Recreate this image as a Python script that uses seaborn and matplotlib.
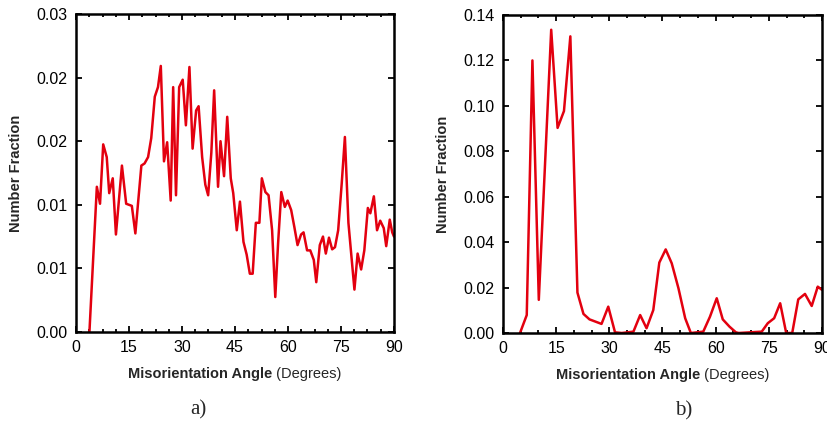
import matplotlib
matplotlib.use("Agg")
import matplotlib.pyplot as plt
from matplotlib.ticker import MultipleLocator, FormatStrFormatter
import seaborn as sns
import pandas as pd

# --- data ---
angle_a = [3.8, 5.9, 6.8, 7.7, 8.7, 9.4, 10.4, 11.3, 13.0, 14.2,
           15.8, 16.8, 18.5, 19.4, 20.4, 21.3, 22.3, 23.2, 24.0, 24.9,
           25.8, 26.8, 27.5, 28.3, 29.2, 30.2, 31.1, 32.1, 33.0, 34.0,
           34.7, 35.7, 36.6, 37.4, 38.3, 39.1, 40.2, 40.9, 41.9, 42.8,
           43.8, 44.5, 45.5, 46.4, 47.4, 48.3, 49.2, 50.0, 50.9, 51.9,
           52.6, 53.6, 54.5, 55.5, 56.4, 57.2, 58.1, 59.1, 59.9, 60.9,
           61.8, 62.7, 63.7, 64.4, 65.4, 66.3, 67.3, 68.0, 69.0, 69.9,
           70.7, 71.6, 72.5, 73.3, 74.2, 75.2, 76.1, 77.1, 77.8, 78.8,
           79.7, 80.7, 81.6, 82.6, 83.3, 84.3, 85.2, 86.1, 87.1, 87.8,
           88.8, 89.5, 90.0]
fraction_a = [0.0, 0.0137, 0.0121, 0.0177, 0.0165, 0.0131, 0.0145, 0.0092, 0.0157, 0.0121,
              0.0119, 0.0093, 0.0157, 0.0159, 0.0165, 0.0183, 0.0222, 0.0231, 0.0251, 0.0161,
              0.0179, 0.0124, 0.0231, 0.0129, 0.0231, 0.0238, 0.0195, 0.0250, 0.0173, 0.0209,
              0.0213, 0.0165, 0.0139, 0.0129, 0.0169, 0.0228, 0.0137, 0.0180, 0.0147, 0.0203,
              0.0145, 0.0131, 0.0096, 0.0123, 0.0085, 0.0073, 0.0055, 0.0055, 0.0103, 0.0103,
              0.0145, 0.0132, 0.0129, 0.0096, 0.0033, 0.0084, 0.0132, 0.0118, 0.0124, 0.0115,
              0.0099, 0.0082, 0.0092, 0.0094, 0.0077, 0.0077, 0.0068, 0.0047, 0.0082, 0.0090,
              0.0074, 0.0089, 0.0078, 0.0080, 0.0096, 0.0140, 0.0184, 0.0103, 0.0077, 0.0040,
              0.0074, 0.0059, 0.0077, 0.0117, 0.0112, 0.0128, 0.0096, 0.0105, 0.0098, 0.0081,
              0.0106, 0.0094, 0.0090]

angle_b = [4.8, 6.7, 8.3, 10.1, 13.6, 15.4, 17.2, 19.0, 21.0, 22.7,
           24.4, 27.8, 29.7, 31.6, 33.5, 36.8, 38.7, 40.5, 42.4, 44.1,
           45.9, 47.6, 49.5, 51.4, 53.0, 56.5, 58.4, 60.3, 62.0, 63.9,
           65.7, 66.5, 73.0, 74.7, 76.5, 78.2, 79.9, 81.6, 83.3, 85.2,
           87.1, 88.8, 90.0]
fraction_b = [0.0, 0.0079, 0.1200, 0.0146, 0.1335, 0.0903, 0.0977, 0.1306, 0.0178, 0.0084,
              0.0060, 0.0040, 0.0116, 0.0003, 0.0, 0.0006, 0.0079, 0.0021, 0.0101, 0.0310,
              0.0368, 0.0307, 0.0197, 0.0065, 0.0, 0.0006, 0.0072, 0.0153, 0.0060, 0.0028,
              0.0003, 0.0, 0.0006, 0.0043, 0.0065, 0.0131, 0.0, 0.0, 0.0148, 0.0172,
              0.0119, 0.0204, 0.0190]

x_ticks = [0, 15, 30, 45, 60, 75, 90]
captions = ["a)", "b)"]

LINE_RED = "#e3000f"

sns.set_style("ticks")
plt.rcParams['font.family'] = ['Liberation Sans', 'DejaVu Sans']

fig = plt.figure(figsize=(8.28, 4.22), dpi=100)
ax_a = fig.add_axes([76 / 828, 90 / 422, 318 / 828, 318 / 422])
ax_b = fig.add_axes([503 / 828, 89 / 422, 319 / 828, 318 / 422])

panels = [
    (ax_a, angle_a, fraction_a, 0.03, 0.006, 3.75),
    (ax_b, angle_b, fraction_b, 0.14, 0.02, 5),
]

for ax, xs, ys, ymax, ystep, xminor in panels:
    df = pd.DataFrame({"angle": xs, "fraction": ys})
    sns.lineplot(data=df, x="angle", y="fraction", ax=ax, color=LINE_RED,
                 linewidth=1.8, sort=False, estimator=None)
    ax.set_xlim(0, 90)
    ax.set_ylim(0, ymax)
    ax.set_xticks(x_ticks)
    ax.xaxis.set_minor_locator(MultipleLocator(xminor))
    ax.yaxis.set_major_locator(MultipleLocator(ystep))
    ax.yaxis.set_major_formatter(FormatStrFormatter("%.2f"))
    ax.tick_params(which="both", direction="in", top=True, right=True,
                   width=1.3, labelsize=11.5, colors="black")
    ax.tick_params(which="major", length=4, pad=6)
    ax.tick_params(which="minor", length=2.5)
    for sp in ax.spines.values():
        sp.set_linewidth(1.8)
        sp.set_color("black")
    ax.set_xlabel("")
    ax.set_ylabel("Number Fraction", fontsize=10.5, fontweight="bold", labelpad=10)

# x labels: bold part + regular part, centred together under each panel
label_parts = []
for ax in (ax_a, ax_b):
    t1 = ax.text(0.5, -0.11, "Misorientation Angle", transform=ax.transAxes,
                 fontsize=10.5, fontweight="bold", ha="left", va="top")
    t2 = ax.annotate(" (Degrees)", xy=(1, 0), xycoords=t1, fontsize=10.5,
                     ha="left", va="bottom")
    label_parts.append((ax, t1, t2))

fig.canvas.draw()
renderer = fig.canvas.get_renderer()
for ax, t1, t2 in label_parts:
    b1 = t1.get_window_extent(renderer)
    b2 = t2.get_window_extent(renderer)
    total = b2.x1 - b1.x0
    axb = ax.get_window_extent(renderer)
    x0 = (axb.x0 + axb.x1) / 2 - total / 2
    t1.set_x((x0 - axb.x0) / axb.width)

cap_pos = [0.384, 0.567]
for ax, cap, cx in zip((ax_a, ax_b), captions, cap_pos):
    ax.text(cx, -0.215, cap, transform=ax.transAxes, fontsize=15,
            family=["Liberation Serif", "DejaVu Serif"], ha="center", va="top")

fig.savefig("out.png", dpi=100)
